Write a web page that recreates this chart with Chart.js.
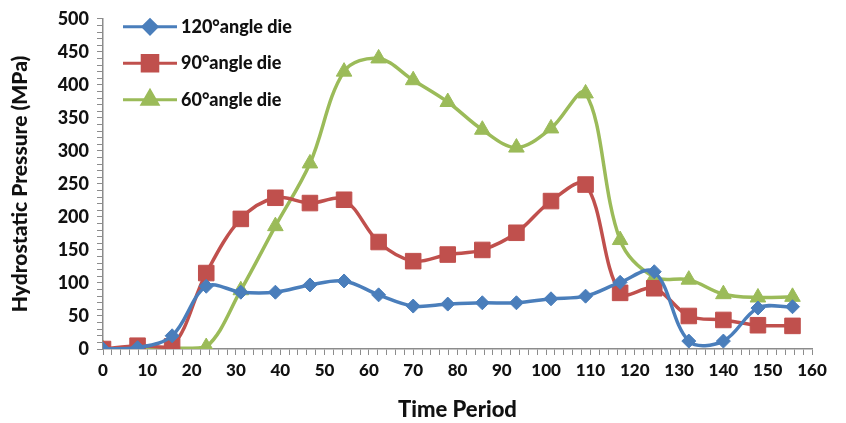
<!DOCTYPE html>
<html>
<head>
<meta charset="utf-8">
<script src="https://cdn.jsdelivr.net/npm/chart.js@4"></script>
<style>
  html, body { margin: 0; padding: 0; background: #fff; }
  #wrap { width: 846px; height: 423px; position: relative; }
</style>
</head>
<body>
<div id="wrap"><canvas id="graficoPressao"></canvas></div>
<script>
// tempos (eixo x) e pressões
const tempos = [0, 7.8, 15.6, 23.3, 31.1, 38.9, 46.7, 54.4, 62.2, 70, 77.8, 85.6, 93.3, 101.1, 108.9, 116.7, 124.4, 132.2, 140, 147.8, 155.6];
const die120 = [0, 2, 20, 95, 86, 86, 97, 103, 82, 65, 68, 70, 70, 76, 80, 101, 117, 12, 12, 62, 64];
const die90 = [0, 5, 4, 115, 197, 229, 221, 226, 162, 133, 143, 150, 176, 224, 249, 85, 92, 50, 44, 36, 35];
const die60 = [0, 1, 1, 3, 89, 186, 281, 420, 440, 407, 374, 332, 305, 334, 387, 165, 109, 105, 83, 78, 79];
const nomes = ['120°angle die', '90°angle die', '60°angle die'];

const fonte = 'Lato, "Open Sans", sans-serif';

function pontos(valores) {
    return tempos.map((t, i) => ({ x: t, y: valores[i] }));
}

const series = [
    { label: nomes[0], data: pontos(die120), cor: '#4a7ebb', estilo: 'rectRot', raio: 7 },
    { label: nomes[1], data: pontos(die90), cor: '#c0504d', estilo: 'rect', raio: 11 },
    { label: nomes[2], data: pontos(die60), cor: '#9bbb59', estilo: 'triangle', raio: 9 }
];

// legenda desenhada dentro da área do gráfico (como no Excel)
const legendaInterna = {
    id: 'legendaInterna',
    afterDraw(chart) {
        const ctx = chart.ctx;
        const x0 = chart.chartArea.left + 20;
        const y0 = chart.chartArea.top + 8;
        ctx.save();
        chart.data.datasets.forEach((ds, i) => {
            const y = y0 + i * 36.5;
            ctx.strokeStyle = ds.borderColor;
            ctx.lineWidth = 3;
            ctx.beginPath();
            ctx.moveTo(x0, y);
            ctx.lineTo(x0 + 54, y);
            ctx.stroke();
            ctx.fillStyle = ds.borderColor;
            Chart.helpers.drawPoint(ctx, {
                pointStyle: ds.pointStyle,
                radius: ds.pointRadius,
                borderWidth: 1,
                rotation: 0
            }, x0 + 27, y);
            ctx.fillStyle = '#111';
            ctx.font = '900 18px ' + fonte;
            ctx.textBaseline = 'middle';
            ctx.fillText(ds.label, x0 + 58, y);
        });
        ctx.restore();
    }
};

new Chart(document.getElementById('graficoPressao'), {
    type: 'line',
    data: {
        datasets: series.map(s => ({
            label: s.label,
            data: s.data,
            borderColor: s.cor,
            backgroundColor: s.cor,
            borderWidth: 3.5,
            pointStyle: s.estilo,
            pointRadius: s.raio,
            pointHoverRadius: s.raio,
            pointBorderWidth: 1,
            tension: 0.35
        }))
    },
    options: {
        responsive: true,
        maintainAspectRatio: false,
        animation: false,
        layout: {
            padding: { left: 0, top: 18, right: 34, bottom: 0 }
        },
        plugins: {
            legend: { display: false },
            tooltip: { enabled: false }
        },
        scales: {
            x: {
                type: 'linear',
                min: 0,
                max: 160,
                afterFit(scale) { scale.height = 74; },
                border: { color: '#8c8c8c', width: 1.5 },
                grid: {
                    drawOnChartArea: false,
                    tickLength: 6,
                    tickColor: '#8c8c8c'
                },
                ticks: {
                    stepSize: 2,
                    autoSkip: false,
                    maxRotation: 0,
                    padding: 5,
                    color: '#111',
                    font: { family: fonte, size: 17, weight: '900' },
                    callback: v => (v % 10 === 0 ? v : '')
                },
                title: {
                    display: true,
                    text: 'Time Period',
                    color: '#111',
                    padding: { top: 0, bottom: 0 },
                    font: { family: fonte, size: 22, weight: '900' }
                }
            },
            y: {
                min: 0,
                max: 500,
                afterFit(scale) { scale.width = 103; },
                border: { color: '#8c8c8c', width: 1.5 },
                grid: {
                    drawOnChartArea: false,
                    tickLength: 6,
                    tickColor: '#8c8c8c'
                },
                ticks: {
                    stepSize: 10,
                    autoSkip: false,
                    padding: 8,
                    color: '#111',
                    font: { family: fonte, size: 18, weight: '900' },
                    callback: v => (v % 50 === 0 ? v : '')
                },
                title: {
                    display: true,
                    text: 'Hydrostatic Pressure (MPa)',
                    color: '#111',
                    padding: { top: 8, bottom: 0 },
                    font: { family: fonte, size: 21, weight: '900' }
                }
            }
        }
    },
    plugins: [legendaInterna]
});
</script>
</body>
</html>
